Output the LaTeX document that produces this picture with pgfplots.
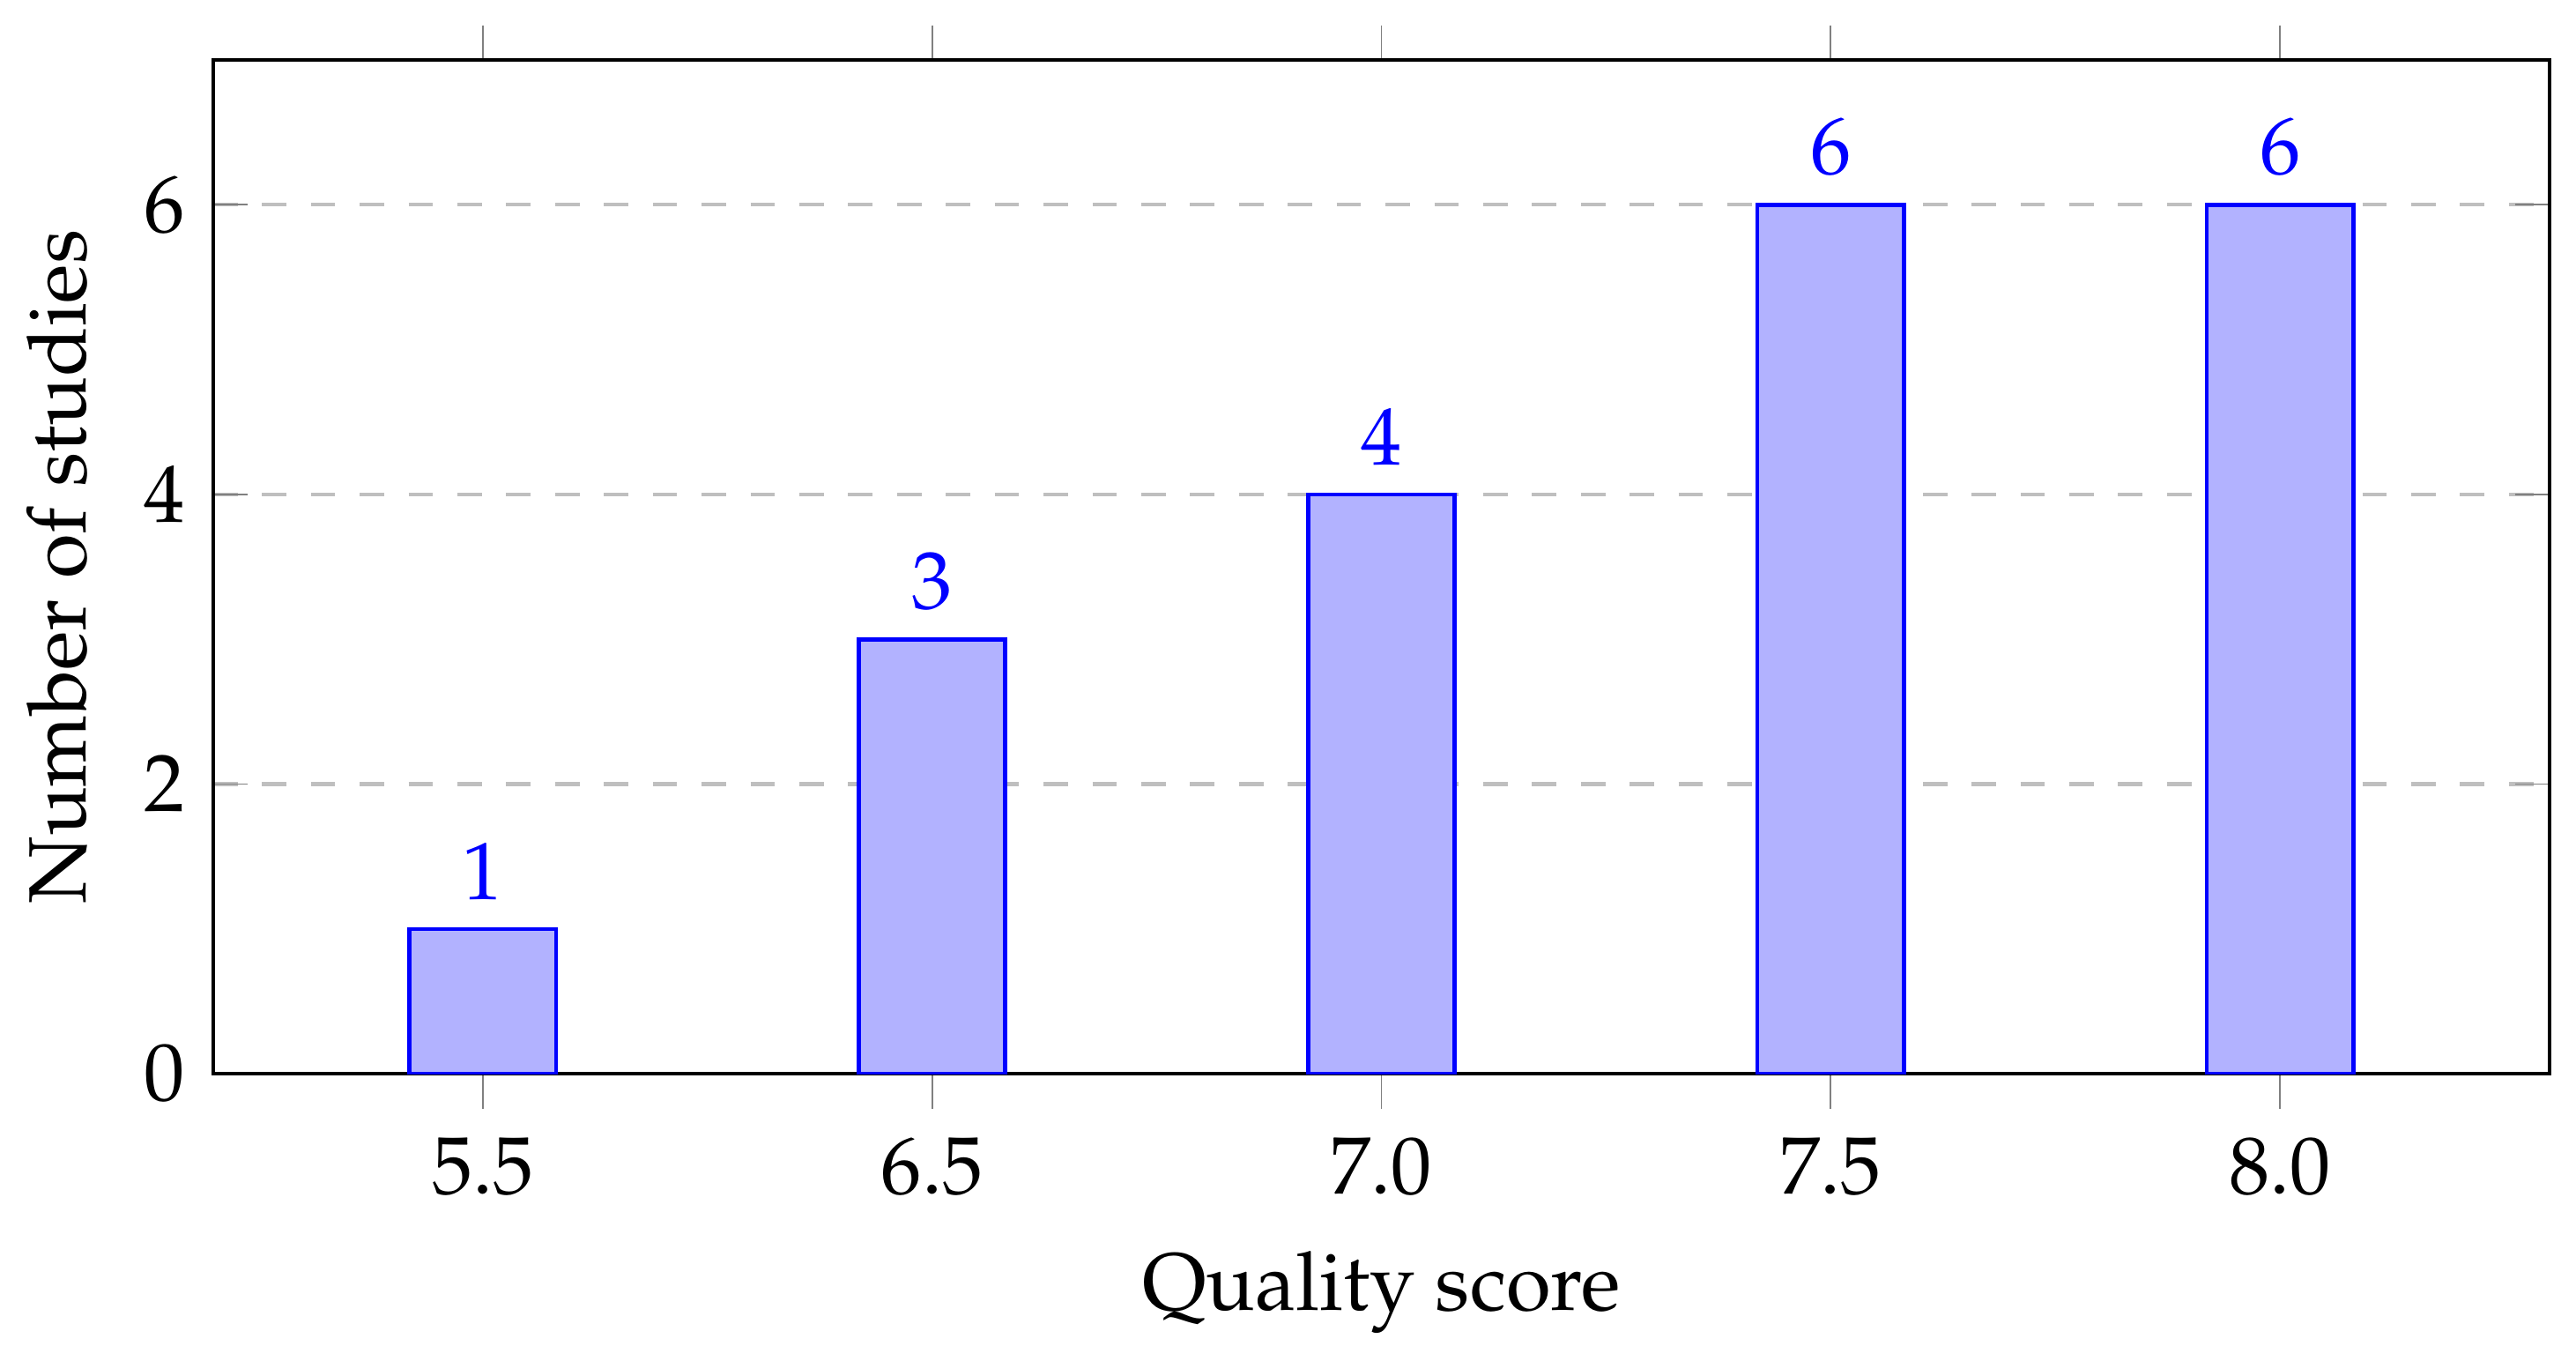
\documentclass[border={0pt 0pt 3pt 3pt}]{standalone}
\usepackage[T1]{fontenc}
\usepackage{mathpazo}
\usepackage{pgfplots}
\pgfplotsset{compat=1.18}

\begin{document}
\begin{tikzpicture}
\begin{axis}[
    ybar,
    scale only axis,
    width=287pt,
    height=124.5pt,
    bar width=18pt,
    xmin=-0.6, xmax=4.6,
    ymin=0, ymax=7,
    xtick={0,1,2,3,4},
    xticklabels={5.5,6.5,7.0,7.5,8.0},
    ytick={0,2,4,6},
    xlabel={Quality score},
    ylabel={Number of studies},
    ymajorgrids=true,
    grid style={dashed, gray!50, line width=0.45pt},
    tick style={gray},
    x tick style={/pgfplots/tick align=outside},
    nodes near coords,
    nodes near coords style={blue},
    axis line style={black, line width=0.5pt},
]
\addplot[draw=blue, fill=blue!30, line width=0.5pt] coordinates {(0,1) (1,3) (2,4) (3,6) (4,6)};
\end{axis}
\end{tikzpicture}
\end{document}
